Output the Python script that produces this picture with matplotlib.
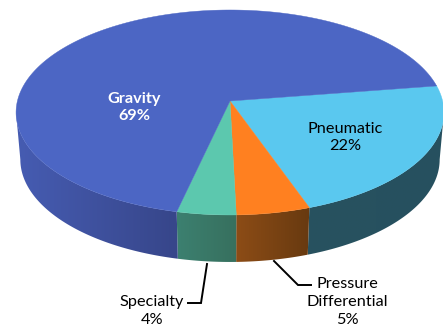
import numpy as np
import matplotlib
matplotlib.use('Agg')
import matplotlib.pyplot as plt
from matplotlib.colors import LinearSegmentedColormap
from matplotlib.patches import Polygon

plt.rcParams['font.family'] = ['Lato', 'DejaVu Sans']

categories = ['Pneumatic', 'Pressure\nDifferential', 'Specialty', 'Gravity']
values = [22, 5, 4, 69]
top_colors = ['#5AC8EF', '#FF8020', '#5CC8AE', '#4C66C4']
# side wall shades, left end then right end of each slice
side_colors = [('#28525F', '#26505F'), ('#8C4C16', '#683A10'),
               ('#3C8070', '#37705E'), ('#465CB2', '#37468A')]

start_angle = 8.7
center_x, center_y = 230, 101
radius_x, radius_y = 212.6, 101.2
tilt = 0.112
depth = 47
bottom_shrink = 0.98


def rim(theta):
    """
    perspective projection of points on the pie circle
    Parameters:
    @theta {array} angles in degrees
    Return:
    x and y in pixels
    """
    t = np.radians(theta)
    w = 1 + tilt * np.sin(t)
    return center_x + radius_x * np.cos(t) / w, center_y - radius_y * np.sin(t) / w


fig = plt.figure(figsize=(4.43, 3.26), dpi=100)
ax = fig.add_axes([0, 0, 1, 1])
ax.set_xlim(0, 443)
ax.set_ylim(326, 0)
ax.axis('off')

# angle limits of the part of the wall facing the viewer
front_hi = -np.degrees(np.arcsin(tilt))
front_lo = -180 - front_hi

edges = start_angle - np.cumsum([0] + values) * 3.6

for i in range(len(values)):
    hi, lo = edges[i], edges[i + 1]
    # wall first, the top face is painted over it
    a = min(hi, front_hi)
    b = max(lo, front_lo)
    if a > b:
        theta = np.linspace(a, b, 80)
        x, y = rim(theta)
        # the far edge of the wall is a little narrower than the top face
        x2 = center_x + (x - center_x) * bottom_shrink
        verts = np.r_[np.c_[x, y], np.c_[x2[::-1], y[::-1] + depth]]
        patch = Polygon(verts, closed=True, fc='none', ec='none')
        ax.add_patch(patch)
        cmap = LinearSegmentedColormap.from_list('side', side_colors[i])
        grad = np.linspace(0, 1, 64).reshape(1, -1)
        im = ax.imshow(grad, cmap=cmap, aspect='auto', interpolation='bilinear',
                       extent=[min(x.min(), x2.min()), max(x.max(), x2.max()),
                               y.max() + depth, y.min()])
        im.set_clip_path(patch)

ax.set_xlim(0, 443)
ax.set_ylim(326, 0)

for i in range(len(values)):
    theta = np.linspace(edges[i], edges[i + 1], 200)
    x, y = rim(theta)
    ax.fill(np.r_[center_x, x], np.r_[center_y, y], color=top_colors[i], lw=0.3)

labels = [f'{c}\n{v}%' for c, v in zip(categories, values)]
font = dict(ha='center', va='center', fontsize=11.7, linespacing=1.32)
ax.text(345, 137.5, labels[0], color='black', **font)
ax.text(347, 302, labels[1], color='black', ha='center', va='center', fontsize=11.7, linespacing=1.36)
ax.text(152, 311, labels[2], color='black', **font)
ax.text(134, 107.5, labels[3], color='white', fontweight='bold', **font)

# leader lines
ax.plot([207, 201, 188], [264, 303, 303], color='black', lw=1.4, solid_joinstyle='miter')
ax.plot([274, 298, 311], [261, 285, 285], color='black', lw=1.4, solid_joinstyle='miter')

fig.savefig('out.png', dpi=100)
